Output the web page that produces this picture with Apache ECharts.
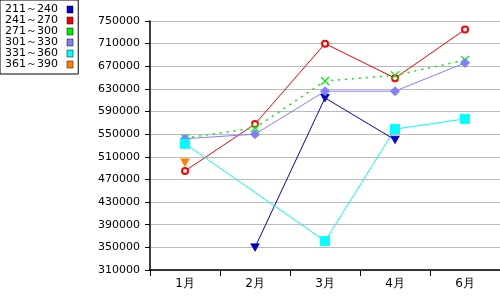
<!DOCTYPE html>
<html><head><meta charset="utf-8">
<script src="https://cdn.jsdelivr.net/npm/echarts@6/dist/echarts.min.js"></script>
<style>html,body{margin:0;padding:0;background:#fff}#c{width:500px;height:300px}</style>
</head><body><div id="c"></div>
<script>
const categories = ['1月', '2月', '3月', '4月', '6月'];
const seriesNames = ['211～240', '241～270', '271～300', '301～330', '331～360', '361～390'];
const seriesColors = ['#0000cc', '#ff0000', '#00ee00', '#8080ff', '#00ffff', '#ff8000'];
const s211 = [null, 350000, 614000, 540000, null];
const s241 = [485000, 568000, 710000, 649000, 735000];
const s271 = [543000, 561000, 644000, 654000, 681000];
const s301 = [542000, 550000, 626000, 626000, 676000];
const s331 = [533000, null, 361000, 559000, 577000];
const s361 = [500000, null, null, null, null];
const yTicks = [310000, 350000, 390000, 430000, 470000, 510000, 550000, 590000, 630000, 670000, 710000, 750000];

const xPath = 'path://M0,0L10,10M10,0L0,10';
const font = 'DejaVu Sans';
const chart = echarts.init(document.getElementById('c'));
function mk(name, data, color, symbol, size, extra) {
  return Object.assign({
    name, type: 'line', data, symbol, symbolSize: size,
    showSymbol: true, connectNulls: true, animation: false,
    lineStyle: { color, width: 1 },
    itemStyle: { color, borderColor: color },
    emphasis: { disabled: true }
  }, extra || {});
}
chart.setOption({
  animation: false,
  textStyle: { fontFamily: font },
  legend: {
    orient: 'vertical', left: 0, top: 0, align: 'right',
    icon: 'rect', itemWidth: 6, itemHeight: 7, itemGap: 0,
    padding: [4, 5, 4, 5],
    borderColor: '#000', borderWidth: 1, backgroundColor: '#fff',
    textStyle: { fontSize: 11, lineHeight: 11, color: '#000', fontFamily: font, padding: [0, 4, 0, 0] },
    data: seriesNames.map((n, i) => ({ name: n, itemStyle: { color: seriesColors[i], borderColor: '#000', borderWidth: 0.5 } }))
  },
  grid: { left: 150, right: 0, top: 21, bottom: 30, containLabel: false },
  xAxis: {
    type: 'category', data: categories, boundaryGap: true,
    axisLine: { lineStyle: { color: '#000', width: 1.5 } },
    axisTick: { show: true, interval: 0, length: 6, lineStyle: { color: '#000' } },
    axisLabel: { color: '#000', fontSize: 12, fontFamily: font, margin: 8, interval: 0 },
    splitLine: { show: false }
  },
  yAxis: {
    type: 'value', min: 310000, max: 750000,
    axisLine: { show: true, lineStyle: { color: '#000', width: 1.5 } },
    axisTick: { show: true, length: 5, lineStyle: { color: '#000' }, customValues: yTicks },
    axisLabel: { color: '#000', fontSize: 11, fontFamily: font, margin: 10, customValues: yTicks, formatter: v => String(v) },
    splitLine: { show: true, lineStyle: { color: '#bbb', width: 1 } }
  },
  series: [
    mk(seriesNames[0], s211, seriesColors[0], 'triangle', [8, 7], { symbolRotate: 180 }),
    mk(seriesNames[1], s241, seriesColors[1], 'emptyCircle', 6, { itemStyle: { color: '#ff0000', borderColor: '#ff0000', borderWidth: 1.5 } }),
    mk(seriesNames[2], s271, seriesColors[2], xPath, 8, { lineStyle: { color: '#00ee00', width: 1.5, type: [2, 5] }, itemStyle: { color: 'none', borderColor: '#00ee00', borderWidth: 1.2 } }),
    mk(seriesNames[3], s301, seriesColors[3], 'diamond', 9),
    mk(seriesNames[4], s331, seriesColors[4], 'rect', 9),
    mk(seriesNames[5], s361, seriesColors[5], 'triangle', [8, 7], { symbolRotate: 180 })
  ]
});
</script></body></html>
